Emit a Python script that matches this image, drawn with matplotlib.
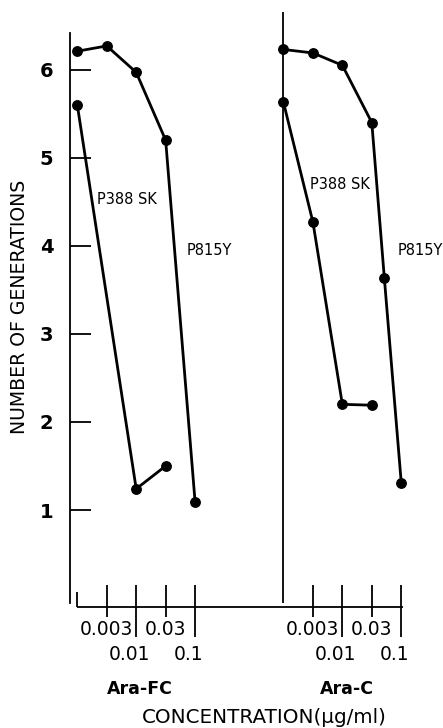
import numpy as np
import matplotlib
matplotlib.use("Agg")
import matplotlib.pyplot as plt

# ---- data ----
# concentration in ug/ml, 0 = untreated control
tick_conc = [0.003, 0.01, 0.03, 0.1]
tick_text = ["0.003", "0.01", "0.03", "0.1"]
tick_row = [0, 1, 0, 1]          # 0.01 and 0.1 sit on the second label row

fc_p815y_conc = [0, 0.003, 0.01, 0.03, 0.1]
fc_p815y_gen = [6.21, 6.27, 5.97, 5.20, 1.09]
fc_p388sk_conc = [0, 0.01, 0.03]
fc_p388sk_gen = [5.60, 1.24, 1.50]

c_p815y_conc = [0, 0.003, 0.01, 0.03, 0.05, 0.1]
c_p815y_gen = [6.23, 6.19, 6.05, 5.40, 3.64, 1.31]
c_p388sk_conc = [0, 0.003, 0.01, 0.03]
c_p388sk_gen = [5.63, 4.27, 2.20, 2.19]

panel_names = ["Ara-FC", "Ara-C"]
panel_offset = [0, 7]

plt.rcParams['font.family'] = ['DejaVu Sans']


def pos(conc, off):
    # ticks are drawn evenly spaced, in between use log spacing
    out = []
    for c in conc:
        if c == 0:
            out.append(off)
        else:
            out.append(off + np.interp(np.log10(c), np.log10(tick_conc), [1, 2, 3, 4]))
    return np.array(out)


def py(px):
    # pixel row of the reference -> generations (layout helper)
    return 6 - (px - 69.7) / 88.06


fig = plt.figure(figsize=(4.43, 7.28), dpi=100)
ax = fig.add_axes([70 / 443, (728 - 607) / 728, 360 / 443, 595 / 728])
x0 = (70 - 77.3) / 29.45
ax.set_xlim(x0, x0 + 360 / 29.45)
ax.set_ylim(py(607), py(12))

for s in ['top', 'right', 'bottom']:
    ax.spines[s].set_visible(False)
ax.spines['left'].set_linewidth(1.3)
ax.spines['left'].set_bounds(py(603), py(33))

ax.set_yticks([1, 2, 3, 4, 5, 6])
ax.tick_params(axis='y', direction='in', length=15, width=1.3, pad=12, labelsize=14)
for lab in ax.get_yticklabels():
    lab.set_fontweight('bold')
ax.set_xticks([])

# data lines
kw = dict(color='black', lw=2.0, marker='o', ms=6.8, clip_on=False, zorder=3)
ax.plot(pos(fc_p815y_conc, 0), fc_p815y_gen, **kw)
ax.plot(pos(fc_p388sk_conc, 0), fc_p388sk_gen, **kw)
ax.plot(pos(c_p815y_conc, 7), c_p815y_gen, **kw)
ax.plot(pos(c_p388sk_conc, 7), c_p388sk_gen, **kw)

# hand-drawn style concentration axis
ybase = py(607)
ax.hlines(ybase, 0, 11.05, color='black', lw=1.3, clip_on=False)
ax.vlines(7, py(603), py(12), color='black', lw=1.3, clip_on=False)
ax.vlines(0, ybase, py(592), color='black', lw=1.3, clip_on=False)
for off in panel_offset:
    xs = pos(tick_conc, off)
    for x, row in zip(xs, tick_row):
        bottom = py(637) if row else py(617)
        ax.vlines(x, bottom, py(585), color='black', lw=1.3, clip_on=False)
    for x, t, row in zip(xs, tick_text, tick_row):
        if row:
            ax.text(x - 0.22, py(660), t, ha='center', va='baseline', fontsize=13.5)
        else:
            ax.text(x, py(635), t, ha='center', va='baseline', fontsize=13.5)

for off, name in zip(panel_offset, panel_names):
    ax.text(off + 2.13 if off == 0 else off + 2.15, py(694), name,
            ha='center', va='baseline', fontsize=12.5, fontweight='bold')

ax.text(6.34, py(723), "CONCENTRATION(\u03bcg/ml)", ha='center', va='baseline',
        fontsize=14.3, clip_on=False)

# curve labels
ax.text(0.67, py(204), "P388 SK", fontsize=10.5, va='baseline')
ax.text(7.90, py(189), "P388 SK", fontsize=10.5, va='baseline')
ax.text(3.72, py(255), "P815Y", fontsize=10.5, va='baseline')
ax.text(10.89, py(255), "P815Y", fontsize=10.5, va='baseline', clip_on=False)

fig.text(20 / 443, 1 - 307 / 728, "NUMBER OF GENERATIONS", rotation=90,
         ha='center', va='center', fontsize=13.6)

fig.savefig("out.png", dpi=100)
